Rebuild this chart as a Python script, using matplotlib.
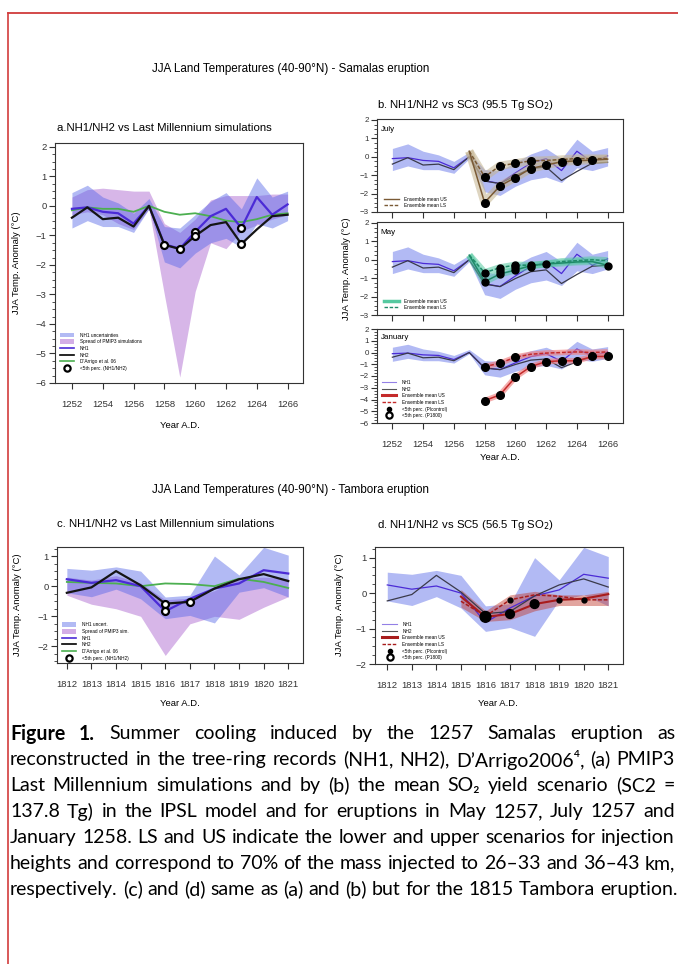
import numpy as np
import matplotlib.pyplot as plt
from matplotlib.ticker import MultipleLocator
from matplotlib.lines import Line2D
from matplotlib.patches import Patch

plt.rcParams['font.family'] = ['Liberation Sans', 'DejaVu Sans']

# ---- Samalas (1252-1266) ----
years_s = np.arange(1252, 1267)
nh1_s = [-0.1, -0.05, -0.2, -0.25, -0.6, 0.0, -1.3, -1.45, -0.88, -0.35, -0.1, -0.75, 0.3, -0.3, 0.05]
nh2_s = [-0.4, -0.05, -0.45, -0.4, -0.7, 0.0, -1.32, -1.46, -1.02, -0.65, -0.55, -1.29, -0.8, -0.35, -0.3]
darrigo_s = [-0.15, -0.05, -0.1, -0.1, -0.2, 0.0, -0.2, -0.3, -0.25, -0.35, -0.5, -0.55, -0.45, -0.3, -0.25]
nh1_hi_s = [0.45, 0.7, 0.3, 0.1, -0.25, 0.25, -0.7, -0.75, -0.3, 0.15, 0.45, -0.1, 0.95, 0.3, 0.5]
nh1_lo_s = [-0.75, -0.5, -0.7, -0.7, -0.9, -0.1, -1.9, -2.1, -1.6, -1.25, -1.1, -1.4, -0.6, -0.75, -0.5]
pmip_hi_s = [0.3, 0.55, 0.6, 0.55, 0.5, 0.5, -0.6, -0.9, -0.45, 0.2, 0.35, 0.35, 0.35, 0.4, 0.4]
pmip_lo_s = [-0.3, -0.2, -0.3, -0.6, -0.8, -0.1, -3.0, -5.8, -2.9, -1.25, -1.45, -0.85, -0.65, -0.45, -0.3]
perc_years_a = [1258, 1259, 1260, 1260, 1263, 1263]
perc_vals_a = [-1.32, -1.46, -0.88, -1.02, -0.75, -1.29]

# panel b ensembles
years_jul = np.arange(1257, 1267)
jul_us = [0.3, -2.49, -1.58, -1.13, -0.64, -0.45, -0.27, -0.22, -0.18, -0.13]
jul_ls = [0.3, -1.09, -0.49, -0.36, -0.22, -0.2, -0.15, -0.1, -0.1, -0.1]
jul_mk_years = [1258, 1258, 1259, 1259, 1260, 1260, 1261, 1261, 1262, 1263, 1264, 1265]
jul_mk_vals = [-1.09, -2.49, -0.49, -1.58, -0.36, -1.13, -0.22, -0.64, -0.45, -0.27, -0.22, -0.18]

years_may = np.arange(1257, 1267)
may_us = [0.25, -1.19, -0.77, -0.56, -0.32, -0.23, -0.18, -0.12, -0.1, -0.3]
may_ls = [0.25, -0.7, -0.43, -0.29, -0.3, -0.23, -0.1, -0.05, 0.0, -0.05]
may_mk_years = [1258, 1258, 1259, 1259, 1259, 1260, 1260, 1260, 1261, 1261, 1262, 1266]
may_mk_vals = [-0.7, -1.19, -0.43, -0.6, -0.77, -0.29, -0.42, -0.56, -0.28, -0.38, -0.23, -0.35]

years_jan = np.arange(1258, 1267)
jan_us = [-4.1, -3.6, -2.1, -1.2, -0.77, -0.71, -0.71, -0.34, -0.34]
jan_ls = [-1.2, -0.91, -0.4, -0.15, -0.05, 0.0, 0.05, 0.0, 0.05]
jan_mk_years = [1258, 1259, 1260, 1261, 1262, 1263, 1264, 1265, 1266, 1258, 1259, 1260]
jan_mk_vals = [-4.1, -3.6, -2.1, -1.2, -0.77, -0.71, -0.71, -0.34, -0.34, -1.2, -0.91, -0.4]

# ---- Tambora (1812-1821) ----
years_t = np.arange(1812, 1822)
nh1_t = [0.23, 0.11, 0.2, 0.0, -0.83, -0.42, -0.08, 0.09, 0.53, 0.42]
nh2_t = [-0.22, -0.04, 0.5, 0.03, -0.58, -0.52, -0.08, 0.23, 0.4, 0.17]
darrigo_t = [0.14, 0.11, 0.09, 0.0, 0.09, 0.07, 0.0, 0.25, 0.14, -0.06]
nh1_hi_t = [0.59, 0.53, 0.64, 0.5, -0.36, -0.3, 1.0, 0.37, 1.29, 1.03]
nh1_lo_t = [-0.22, -0.35, -0.1, -0.42, -1.08, -0.97, -1.22, -0.2, -0.05, -0.36]
pmip_hi_t = [0.3, 0.2, 0.35, 0.1, -0.45, -0.4, -0.15, 0.25, 0.3, 0.25]
pmip_lo_t = [-0.3, -0.6, -0.75, -1.0, -2.3, -1.25, -1.0, -1.1, -0.7, -0.35]
perc_years_c = [1816, 1816, 1817]
perc_vals_c = [-0.58, -0.83, -0.52]

years_d = np.arange(1815, 1822)
d_us = [-0.1, -0.67, -0.59, -0.31, -0.19, -0.16, -0.03]
d_ls = [-0.23, -0.65, -0.19, -0.05, -0.09, -0.19, -0.19]
d_hi = [0.1, -0.5, -0.05, 0.05, -0.05, -0.05, 0.05]
d_lo = [-0.4, -0.8, -0.75, -0.5, -0.35, -0.35, -0.35]
d_pi_years = [1817, 1819, 1820]
d_pi_vals = [-0.2, -0.2, -0.2]
d_p1800_years = [1816, 1817, 1818]
d_p1800_vals = [-0.67, -0.59, -0.31]

caption = [
    "Figure 1. Summer cooling induced by the 1257 Samalas eruption as",
    "reconstructed in the tree-ring records (NH1, NH2), D\u2019Arrigo2006\u2074, (a) PMIP3",
    "Last Millennium simulations and by (b) the mean SO\u2082 yield scenario (SC2 =",
    "137.8 Tg) in the IPSL model and for eruptions in May 1257, July 1257 and",
    "January 1258. LS and US indicate the lower and upper scenarios for injection",
    "heights and correspond to 70% of the mass injected to 26\u201333 and 36\u201343 km,",
    "respectively. (c) and (d) same as (a) and (b) but for the 1815 Tambora eruption.",
]

W, H = 678, 964
fig = plt.figure(figsize=(W / 100, H / 100), dpi=100)


def box(x0, y0, x1, y1):
    return [x0 / W, 1 - y1 / H, (x1 - x0) / W, (y1 - y0) / H]


def fx(x):
    return x / W


def fy(y):
    return 1 - y / H


BLUE = '#5566e8'
PINK = '#d3aee6'
NH1C = '#4b2bd6'
GREEN = '#4caf50'
DARK = '#333333'
TFS = 8.2


def style(ax, xt, xl, yl, fs=6.8, labels=True):
    ax.set_xlim(*xl)
    ax.set_xticks(xt)
    ax.yaxis.set_major_locator(MultipleLocator(1))
    ax.yaxis.set_minor_locator(MultipleLocator(0.25))
    ax.tick_params(direction='out', length=4, width=0.8, colors=DARK, labelsize=fs, pad=2)
    ax.tick_params(axis='y', which='minor', direction='out', length=2, width=0.6, colors=DARK)
    ax.tick_params(axis='x', pad=8)
    if not labels:
        ax.tick_params(axis='x', labelbottom=False)
    for s in ax.spines.values():
        s.set_color(DARK)
        s.set_linewidth(0.8)
    ax.set_ylim(*yl)


def leg(ax, handles, labels, anchor, fs=3.4):
    ax.legend(handles, labels, loc='lower left', bbox_to_anchor=anchor, frameon=False,
              fontsize=fs, handlelength=3.0, handleheight=1.2, labelspacing=0.35,
              borderaxespad=0, handletextpad=1.2, borderpad=0)


open_circ = Line2D([], [], ls='none', marker='o', ms=4.5, mfc='white', mec='black', mew=1.6)
fill_circ = Line2D([], [], ls='none', marker='o', ms=3, mfc='black', mec='black')

# ---------- panel a ----------
fig.text(fx(291), fy(69), 'JJA Land Temperatures (40-90\u00b0N) - Samalas eruption',
         ha='center', va='center', fontsize=8.4)
ax = fig.add_axes(box(55, 143, 303, 383))
ax.fill_between(years_s, pmip_lo_s, pmip_hi_s, color=PINK, alpha=0.9, lw=0)
ax.fill_between(years_s, nh1_lo_s, nh1_hi_s, color=BLUE, alpha=0.45, lw=0)
ax.plot(years_s, darrigo_s, color=GREEN, lw=1.3)
ax.plot(years_s, nh1_s, color=NH1C, lw=1.6)
ax.plot(years_s, nh2_s, color='#151515', lw=1.6)
ax.plot(perc_years_a, perc_vals_a, ls='none', marker='o', ms=5, mfc='white', mec='black', mew=1.6, zorder=5)
style(ax, range(1252, 1267, 2), (1250.9, 1267), (-6, 2.13))
fig.text(fx(57), fy(128), 'a.NH1/NH2 vs Last Millennium simulations', ha='left', va='center', fontsize=TFS)
fig.text(fx(180), fy(425), 'Year A.D.', ha='center', va='center', fontsize=6.8)
fig.text(fx(17), fy(263), 'JJA Temp. Anomaly (\u00b0C)', rotation=90, ha='center', va='center', fontsize=6.8)
leg(ax, [Patch(color=BLUE, alpha=0.45, lw=0), Patch(color=PINK, lw=0),
         Line2D([], [], color=NH1C, lw=1.2), Line2D([], [], color='black', lw=1.2),
         Line2D([], [], color=GREEN, lw=1.2), open_circ],
    ['NH1 uncertainties', 'Spread of PMIP3 simulations', 'NH1', 'NH2',
     "D'Arrigo et al. 06", '<5th perc. (NH1/NH2)'], (0.02, 0.05))


# ---------- panel b ----------
def nh_base(ax):
    ax.fill_between(years_s, nh1_lo_s, nh1_hi_s, color=BLUE, alpha=0.45, lw=0)
    ax.plot(years_s, nh1_s, color=NH1C, lw=0.9)
    ax.plot(years_s, nh2_s, color='#3a3a4a', lw=0.9)


def ens(ax, yrs, us, ls, band, line, rw, alpha):
    ax.plot(yrs, us, color=band, lw=rw, alpha=alpha, solid_capstyle='butt')
    ax.plot(yrs, ls, color=band, lw=rw, alpha=alpha, solid_capstyle='butt')
    ax.plot(yrs, us, color=line, lw=1.1)
    ax.plot(yrs, ls, color=line, lw=1.1, ls=(0, (2.5, 1.2)))


fig.text(fx(377), fy(105), 'b. NH1/NH2 vs SC3 (95.5 Tg SO$_2$)', ha='left', va='center', fontsize=TFS)

axj = fig.add_axes(box(377, 119, 623, 212))
nh_base(axj)
ens(axj, years_jul, jul_us, jul_ls, '#c4b48e', '#7a5a35', 6, 0.55)
axj.plot(jul_mk_years, jul_mk_vals, ls='none', marker='o', ms=5.5, color='black', zorder=5)
style(axj, range(1252, 1267, 2), (1251, 1267), (-3, 2.05), fs=5.8, labels=False)
axj.text(0.015, 0.93, 'July', transform=axj.transAxes, fontsize=5.8, va='top')
leg(axj, [Line2D([], [], color='#7a5a35', lw=1), Line2D([], [], color='#7a5a35', lw=1, ls=(0, (2.5, 1.2)))],
    ['Ensemble mean US', 'Ensemble mean LS'], (0.03, 0.04))

axm = fig.add_axes(box(377, 222, 623, 315))
nh_base(axm)
ens(axm, years_may, may_us, may_ls, '#55c9a0', '#1f8a68', 5, 0.55)
axm.plot(may_mk_years, may_mk_vals, ls='none', marker='o', ms=5, color='black', zorder=5)
style(axm, range(1252, 1267, 2), (1251, 1267), (-3, 2.05), fs=5.8, labels=False)
axm.text(0.015, 0.93, 'May', transform=axm.transAxes, fontsize=5.8, va='top')
axm.set_ylabel('JJA Temp. Anomaly (\u00b0C)', fontsize=6.8, labelpad=6)
leg(axm, [Line2D([], [], color='#55c9a0', lw=2.5), Line2D([], [], color='#1f8a68', lw=1, ls=(0, (2.5, 1.2)))],
    ['Ensemble mean US', 'Ensemble mean LS'], (0.03, 0.05))

axn = fig.add_axes(box(377, 329, 623, 423))
nh_base(axn)
ens(axn, years_jan, jan_us, jan_ls, '#f08080', '#c42a2a', 4, 0.65)
axn.plot(jan_mk_years, jan_mk_vals, ls='none', marker='o', ms=5.5, color='black', zorder=5)
style(axn, range(1252, 1267, 2), (1251, 1267), (-6, 2.0), fs=5.8)
axn.tick_params(axis='x', labelsize=6.8)
axn.text(0.015, 0.95, 'January', transform=axn.transAxes, fontsize=5.8, va='top')
fig.text(fx(500), fy(458), 'Year A.D.', ha='center', va='center', fontsize=6.8)
leg(axn, [Line2D([], [], color=NH1C, lw=0.8, alpha=0.6), Line2D([], [], color='#555555', lw=0.8),
          Line2D([], [], color='#c42a2a', lw=2.2), Line2D([], [], color='#c42a2a', lw=1, ls=(0, (2.5, 1.2))),
          fill_circ, open_circ],
    ['NH1', 'NH2', 'Ensemble mean US', 'Ensemble mean LS', '<5th perc. (PIcontrol)', '<5th perc. (P1800)'],
    (0.02, 0.05))

# ---------- panel c ----------
fig.text(fx(291), fy(490), 'JJA Land Temperatures (40-90\u00b0N) - Tambora eruption',
         ha='center', va='center', fontsize=8.4)
axc = fig.add_axes(box(57, 547, 303, 663))
axc.fill_between(years_t, pmip_lo_t, pmip_hi_t, color=PINK, alpha=0.9, lw=0)
axc.fill_between(years_t, nh1_lo_t, nh1_hi_t, color=BLUE, alpha=0.45, lw=0)
axc.plot(years_t, darrigo_t, color=GREEN, lw=1.3)
axc.plot(years_t, nh1_t, color=NH1C, lw=1.6)
axc.plot(years_t, nh2_t, color='#151515', lw=1.6)
axc.plot(perc_years_c, perc_vals_c, ls='none', marker='o', ms=5, mfc='white', mec='black', mew=1.6, zorder=5)
style(axc, years_t, (1811.6, 1821.6), (-2.55, 1.3))
fig.text(fx(57), fy(524), 'c. NH1/NH2 vs Last Millennium simulations', ha='left', va='center', fontsize=TFS)
fig.text(fx(180), fy(704), 'Year A.D.', ha='center', va='center', fontsize=6.8)
fig.text(fx(18), fy(605), 'JJA Temp. Anomaly (\u00b0C)', rotation=90, ha='center', va='center', fontsize=6.8)
leg(axc, [Patch(color=BLUE, alpha=0.45, lw=0), Patch(color=PINK, lw=0),
          Line2D([], [], color=NH1C, lw=1.2), Line2D([], [], color='black', lw=1.2),
          Line2D([], [], color=GREEN, lw=1.2), open_circ],
    ['NH1 uncert.', 'Spread of PMIP3 sim.', 'NH1', 'NH2', "D'Arrigo et al. 06", '<5th perc. (NH1/NH2)'],
    (0.02, 0.02))

# ---------- panel d ----------
axd = fig.add_axes(box(375, 547, 623, 664))
axd.fill_between(years_t, nh1_lo_t, nh1_hi_t, color=BLUE, alpha=0.45, lw=0)
axd.plot(years_t, nh1_t, color=NH1C, lw=0.9)
axd.plot(years_t, nh2_t, color='#3a3a4a', lw=0.9)
axd.fill_between(years_d, d_lo, d_hi, color='#c0392b', alpha=0.45, lw=0)
axd.plot(years_d, d_us, color='#a81c1c', lw=1.5)
axd.plot(years_d, d_ls, color='#a81c1c', lw=1.1, ls=(0, (2.5, 1.2)))
axd.plot(d_pi_years, d_pi_vals, ls='none', marker='o', ms=3.5, color='black', zorder=5)
axd.scatter(d_p1800_years, d_p1800_vals, s=[60, 40, 40], color='black', zorder=5)
style(axd, years_t, (1811.5, 1821.6), (-2, 1.3))
fig.text(fx(377), fy(525), 'd. NH1/NH2 vs SC5 (56.5 Tg SO$_2$)', ha='left', va='center', fontsize=TFS)
fig.text(fx(498), fy(704), 'Year A.D.', ha='center', va='center', fontsize=6.8)
fig.text(fx(340), fy(605), 'JJA Temp. Anomaly (\u00b0C)', rotation=90, ha='center', va='center', fontsize=6.8)
leg(axd, [Line2D([], [], color=NH1C, lw=0.8, alpha=0.6), Line2D([], [], color='#555555', lw=0.8),
          Line2D([], [], color='#a81c1c', lw=2.2), Line2D([], [], color='#a81c1c', lw=1, ls=(0, (2.5, 1.2))),
          fill_circ, open_circ],
    ['NH1', 'NH2', 'Ensemble mean US', 'Ensemble mean LS', '<5th perc. (PIcontrol)', '<5th perc. (P1800)'],
    (0.03, 0.03))

# ---------- page border ----------
fig.add_artist(Line2D([fx(8), 1], [fy(13), fy(13)], color='#cc2a2a', lw=1.2))
fig.add_artist(Line2D([fx(8), fx(8)], [fy(13), 0], color='#d23c3c', lw=1.2))

# ---------- caption (justified) ----------
cap_font = ['Lato', 'DejaVu Sans']
renderer = fig.canvas.get_renderer()


def measure(s, size, weight='normal'):
    t = fig.text(0, 0, s, fontsize=size, fontweight=weight, family=cap_font)
    w = t.get_window_extent(renderer).width
    t.remove()
    return w


base = 12.0
nat = measure(caption[-1], base)
cap_fs = base * 664.0 / nat
space_w = measure('a a', cap_fs) - measure('aa', cap_fs)
x_left, x_right = 10, 675
for i, line in enumerate(caption):
    words = line.split(' ')
    weights = ['bold' if (i == 0 and k < 2) else 'normal' for k in range(len(words))]
    widths = [measure(w_, cap_fs, wt) for w_, wt in zip(words, weights)]
    if i < len(caption) - 1:
        gap = (x_right - x_left - sum(widths)) / (len(words) - 1)
        gap = max(gap, space_w * 0.6)
    else:
        gap = space_w
    x = x_left
    ypix = 732 + 26 * i
    for w_, wt, wd in zip(words, weights, widths):
        fig.text(fx(x), fy(ypix), w_, fontsize=cap_fs, fontweight=wt, family=cap_font,
                 ha='left', va='center_baseline')
        x += wd + gap

fig.savefig('out.png', dpi=100)
